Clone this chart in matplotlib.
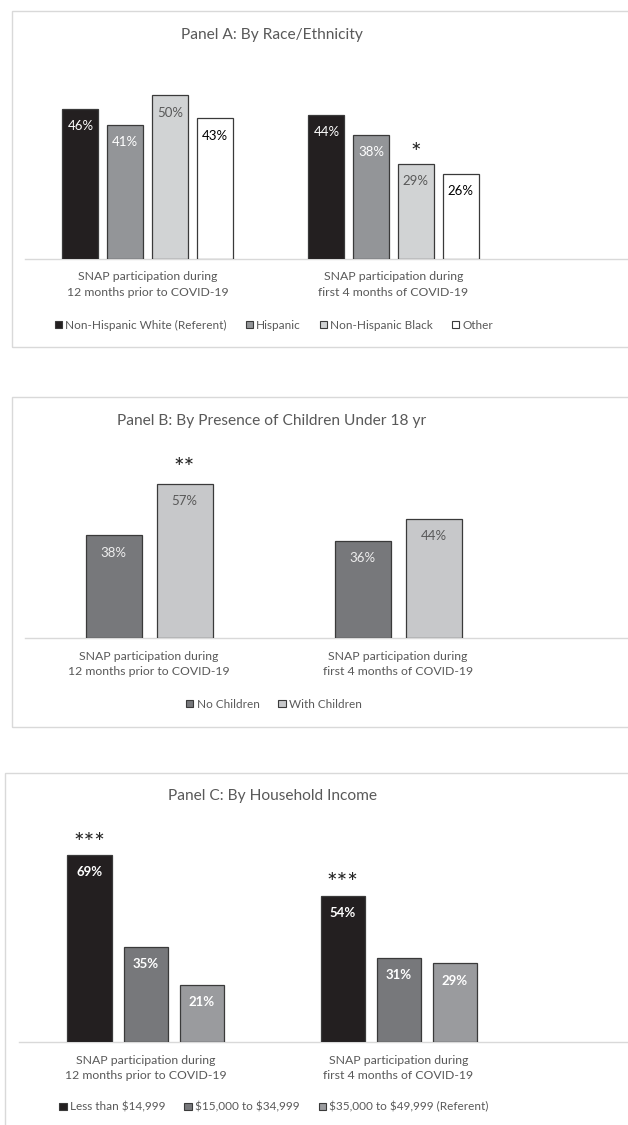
import matplotlib.pyplot as plt
from matplotlib.patches import Patch, Rectangle

plt.rcParams["font.family"] = ["Lato", "DejaVu Sans"]
plt.rcParams["text.parse_math"] = False

# data
periods = ["SNAP participation during\n12 months prior to COVID-19",
           "SNAP participation during\nfirst 4 months of COVID-19"]

race_groups = ["Non-Hispanic White (Referent)", "Hispanic", "Non-Hispanic Black", "Other"]
race_white = [46, 44]
race_hispanic = [41, 38]
race_black = [50, 29]
race_other = [43, 26]
race_stars = {(2, 1): "*"}

child_groups = ["No Children", "With Children"]
child_none = [38, 36]
child_with = [57, 44]
child_stars = {(1, 0): "**"}

income_groups = ["Less than $14,999", "$15,000 to $34,999", "$35,000 to $49,999 (Referent)"]
income_low = [69, 54]
income_mid = [35, 31]
income_ref = [21, 29]
income_stars = {(0, 0): "***", (0, 1): "***"}

TXT = "#595959"
W, H = 628, 1125

fig = plt.figure(figsize=(W / 100, H / 100), dpi=100)


def px_box(x0, y0, x1, y1):
    return [x0 / W, 1 - y1 / H, (x1 - x0) / W, (y1 - y0) / H]


def panel(box, title, title_y, ax_left, baseline, ppu, ymax, centers_px,
          width_px, pitch_px, series, names, colors, lab_colors, stars,
          star_off, legend_y, bold=False):
    # frame around the panel
    x0, y0, x1, y1 = box
    fig.patches.append(Rectangle((x0 / W, 1 - y1 / H), (x1 - x0) / W, (y1 - y0) / H,
                                 transform=fig.transFigure, fill=False,
                                 edgecolor="#D9D9D9", linewidth=1.0))
    fig.text(272 / W, 1 - title_y / H, title, ha="center", va="center",
             fontsize=11.2, color=TXT)

    top = baseline - ymax * ppu
    ax = fig.add_axes(px_box(ax_left, top, W, baseline))
    scale = centers_px[1] - centers_px[0]
    ax.set_xlim((ax_left - centers_px[0]) / scale, (W - centers_px[0]) / scale)
    ax.set_ylim(0, ymax)
    n = len(series)
    w = width_px / scale
    p = pitch_px / scale
    xs = [0, 1]
    handles = []
    for i, (vals, name, col, lc) in enumerate(zip(series, names, colors, lab_colors)):
        pos = [x + (i - (n - 1) / 2) * p for x in xs]
        ax.bar(pos, vals, width=w, color=col, edgecolor="#3A3A3A", linewidth=0.9, zorder=3)
        for j, (x, v) in enumerate(zip(pos, vals)):
            ax.annotate(f"{v}%", (x, v), xytext=(0, -8), textcoords="offset points",
                        ha="center", va="top", fontsize=9.5, color=lc,
                        fontweight="bold" if bold else "normal")
            if (i, j) in stars:
                ax.annotate(stars[(i, j)], (x, v), xytext=(0, star_off),
                            textcoords="offset points", ha="center", va="center",
                            fontsize=18, color="#222222")
        handles.append(Patch(facecolor=col, edgecolor="#3A3A3A", linewidth=0.8, label=name))
    for s in ["top", "left", "right"]:
        ax.spines[s].set_visible(False)
    ax.spines["bottom"].set_color("#D9D9D9")
    ax.spines["bottom"].set_linewidth(1.0)
    ax.set_yticks([])
    ax.set_xticks(xs)
    ax.set_xticklabels(periods, fontsize=8.8, color=TXT, linespacing=1.5)
    ax.tick_params(axis="x", length=0, pad=9)
    ax.patch.set_alpha(0)
    fig.legend(handles=handles, loc="center", bbox_to_anchor=(274 / W, 1 - legend_y / H),
               ncol=n, frameon=False, fontsize=8.5, labelcolor=TXT,
               handlelength=0.6, handleheight=0.6, handletextpad=0.3,
               columnspacing=1.6)
    return ax


panel((12, 11, 700, 347), "Panel A: By Race/Ethnicity", 35, 25, 259, 3.27, 60,
      (147.5, 393.5), 36, 44.7,
      [race_white, race_hispanic, race_black, race_other], race_groups,
      ["#231F20", "#939598", "#D1D3D4", "#FFFFFF"],
      ["#FFFFFF", "#FFFFFF", TXT, "#000000"], race_stars, 8, 325)

panel((12, 397, 700, 727), "Panel B: By Presence of Children Under 18 yr", 421, 25, 638, 2.70, 70,
      (149, 398), 56, 71,
      [child_none, child_with], child_groups,
      ["#77787B", "#C7C8CA"],
      ["#EEEEEE", TXT], child_stars, 11, 704)

panel((5, 773, 700, 1200), "Panel C: By Household Income", 796, 19, 1042, 2.71, 80,
      (145.5, 398.5), 44, 56,
      [income_low, income_mid, income_ref], income_groups,
      ["#231F20", "#77787B", "#9A9B9E"],
      ["#FFFFFF", "#FFFFFF", "#FFFFFF"], income_stars, 8.5, 1107, bold=True)

fig.savefig("out.png", dpi=100)
